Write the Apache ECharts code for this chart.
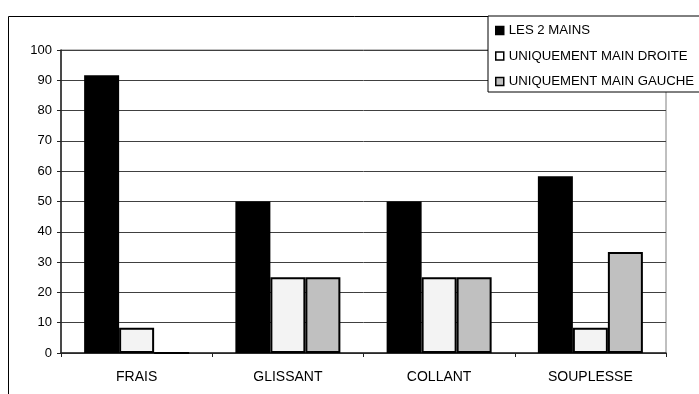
<!DOCTYPE html>
<html><head><meta charset="utf-8">
<script src="https://cdn.jsdelivr.net/npm/echarts@6/dist/echarts.min.js"></script>
<style>html,body{margin:0;padding:0;background:#fff}#c{width:699px;height:394px}</style>
</head><body><div id="c"></div>
<script>
const categories = ['FRAIS', 'GLISSANT', 'COLLANT', 'SOUPLESSE'];
const seriesNames = ['LES 2 MAINS', 'UNIQUEMENT MAIN DROITE', 'UNIQUEMENT MAIN GAUCHE'];
const lesDeuxMains = [91.7, 50, 50, 58.3];
const mainDroite = [8.3, 25, 25, 8.3];
const mainGauche = [0, 25, 25, 33.3];
const yTicks = [0, 10, 20, 30, 40, 50, 60, 70, 80, 90, 100];

const FONT = '"Liberation Sans", Arial, sans-serif';
const chart = echarts.init(document.getElementById('c'), null, {renderer: 'canvas'});
const fills = ['#000000', '#f3f3f3', '#c0c0c0'];
const vals = [lesDeuxMains, mainDroite, mainGauche];
chart.setOption({
  animation: false,
  backgroundColor: '#fff',
  graphic: [{
    type: 'rect', z: -10,
    shape: {x: 8.5, y: 16.5, width: 800, height: 500},
    style: {fill: 'none', stroke: '#000', lineWidth: 1}
  }],
  legend: {
    orient: 'vertical', left: 488, top: 16,
    padding: [8, 40, 4, 7], itemGap: 12.5,
    itemWidth: 8, itemHeight: 8, icon: 'rect',
    backgroundColor: '#fff', borderColor: '#000', borderWidth: 1,
    textStyle: {fontFamily: FONT, fontSize: 13.2, color: '#000', padding: [0,0,0,0]},
    data: seriesNames.map((n, i) => ({name: n, itemStyle: {color: i === 1 ? '#fff' : fills[i], borderColor: '#000', borderWidth: 1.5}}))
  },
  grid: {left: 61, right: 33, top: 50, bottom: 41, show: true, borderColor: '#808080', borderWidth: 1},
  xAxis: {
    type: 'category', data: categories,
    axisLine: {lineStyle: {color: '#222', width: 1.5}},
    axisTick: {show: true, length: 4, lineStyle: {color: '#222'}},
    axisLabel: {fontFamily: FONT, fontSize: 14, color: '#000', margin: 17}
  },
  yAxis: {
    type: 'value', min: yTicks[0], max: yTicks[yTicks.length - 1], interval: 10,
    axisLine: {show: true, lineStyle: {color: '#222', width: 1.5}},
    axisTick: {show: true, length: 4, lineStyle: {color: '#222'}},
    axisLabel: {fontFamily: FONT, fontSize: 13, color: '#000', margin: 9},
    splitLine: {lineStyle: {color: '#404040', width: 1}}
  },
  series: seriesNames.map((n, i) => ({
    name: n, type: 'bar', data: vals[i],
    barWidth: 35, barGap: '0%',
    itemStyle: {color: fills[i], borderColor: '#000', borderWidth: i === 0 ? 0 : 2}
  }))
});
</script></body></html>
